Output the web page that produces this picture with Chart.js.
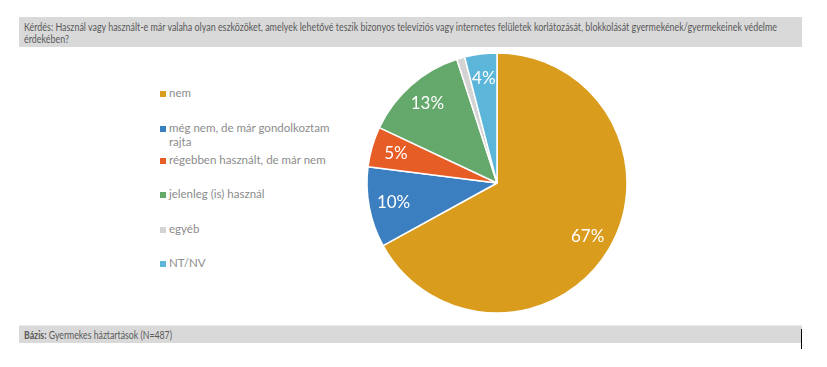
<!DOCTYPE html>
<html>
<head>
<meta charset="utf-8">
<script src="https://cdn.jsdelivr.net/npm/chart.js@4/dist/chart.umd.min.js"></script>
<style>
    body{ margin:0; width:827px; height:367px; background:#fff; position:relative; overflow:hidden; font-family:Lato, "Open Sans", sans-serif; }
    .band{ position:absolute; left:19px; width:783px; background:#d9d9d9; color:#595959; font-size:10.5px; box-sizing:border-box; padding-left:5px; }
    .band span.sq{ display:inline-block; white-space:nowrap; transform-origin:0 0; }
    #question{ top:17px; height:30px; line-height:12px; padding-top:4px; }
    #base{ top:325px; height:18px; line-height:18px; border-top:1px solid #ececec; }
    #vline{ position:absolute; left:801px; top:329px; width:1px; height:20px; background:#000; }
    #legend{ position:absolute; left:160px; top:0; font-size:11.5px; color:#8c8c8c; }
    .item{ position:absolute; left:0; width:180px; line-height:14px; }
    .item span.box{ position:absolute; left:0; top:5px; width:6px; height:6px; }
    .item span.txt{ display:block; padding-left:9px; }
    #wrap{ position:absolute; left:362px; top:48px; width:270px; height:270px; }
</style>
</head>
<body>
<div class="band" id="question"><span class="sq" id="q1">Kérdés: Használ vagy használt-e már valaha olyan eszközöket, amelyek lehetővé teszik bizonyos televíziós vagy internetes felületek korlátozását, blokkolását gyermekének/gyermekeinek védelme<br>érdekében?</span></div>
<div class="band" id="base"><span class="sq" id="b1"><b>Bázis:</b> Gyermekes háztartások (N=487)</span></div>
<div id="vline"></div>
<div id="legend"></div>
<div id="wrap"><canvas id="pie"></canvas></div>
<script>
/*
    data
*/
var categories = ['nem', 'még nem, de már gondolkoztam rajta', 'régebben használt, de már nem', 'jelenleg (is) használ', 'egyéb', 'NT/NV'];
var values = [67, 10, 5, 13, 1, 4];
var labels_pct = ['67%', '10%', '5%', '13%', '', '4%'];
var colors = ['#da9c1c', '#3b7fc1', '#e65d26', '#64a86b', '#d3d3d3', '#5cb6da'];
var legend_top = [86, 121, 153, 187, 222, 256];

// squeeze the narrow band texts to the width they have in the picture
function fnc_squeeze(id, width){
    var el = document.getElementById(id);
    var w = el.getBoundingClientRect().width;
    el.style.transform = 'scaleX(' + (width / w) + ')';
}
fnc_squeeze('q1', 753);
fnc_squeeze('b1', 148);

// html legend built from the same arrays
var legend = document.getElementById('legend');
for(var i in categories){
    var div = document.createElement('div');
    div.className = 'item';
    div.style.top = legend_top[i] + 'px';
    div.innerHTML = '<span class="box" style="background:' + colors[i] + '"></span><span class="txt">' + categories[i] + '</span>';
    legend.appendChild(div);
}

// white percent labels inside slices
var pieLabels = {
    id: 'pieLabels',
    afterDatasetsDraw: function(chart){
        var ctx = chart.ctx;
        var meta = chart.getDatasetMeta(0);
        ctx.save();
        ctx.fillStyle = '#ffffff';
        ctx.font = '17px Lato, "Open Sans", sans-serif';
        ctx.textAlign = 'center';
        ctx.textBaseline = 'middle';
        for(var i in meta.data){
            var arc = meta.data[i];
            var mid = (arc.startAngle + arc.endAngle) / 2;
            var r = arc.outerRadius * 0.81;
            ctx.fillText(labels_pct[i], arc.x + Math.cos(mid) * r, arc.y + Math.sin(mid) * r);
        }
        ctx.restore();
    }
};

new Chart(document.getElementById('pie'), {
    type: 'pie',
    data: {
        labels: categories,
        datasets: [{
            data: values,
            backgroundColor: colors,
            borderColor: '#ffffff',
            borderWidth: 1.5
        }]
    },
    options: {
        responsive: true,
        maintainAspectRatio: false,
        animation: false,
        radius: 130,
        plugins: {
            legend: { display: false },
            tooltip: { enabled: false }
        }
    },
    plugins: [pieLabels]
});
</script>
</body>
</html>
